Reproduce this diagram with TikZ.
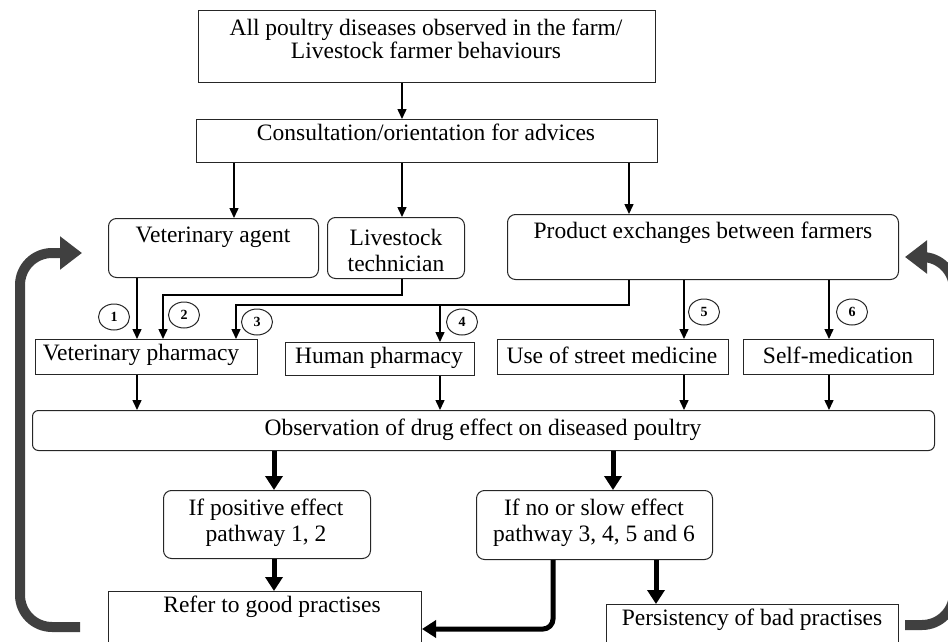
\documentclass[tikz,border=0pt]{standalone}
\usepackage{fontspec}
\setmainfont{Liberation Serif}
\usetikzlibrary{arrows.meta,shapes.geometric}
\definecolor{loopgray}{RGB}{64,64,64}
\tikzset{
  box/.style={draw=black!85, line width=1pt, inner sep=0pt, anchor=north west},
  rbox/.style={box, rounded corners=8pt},
  txt/.style={inner sep=0pt, align=center, font=\fontsize{23.5}{26}\selectfont},
  num/.style={draw=black!85, ellipse, line width=1pt, minimum width=31pt, minimum height=26pt, inner sep=0pt, font=\bfseries\fontsize{14}{14}\selectfont},
  thinarrow/.style={line width=1.5pt, -{Triangle[length=10pt,width=9pt]}},
  thickarrow/.style={line width=5pt, rounded corners=10pt, -{Triangle[length=14pt,width=17pt]}},
  grayarrow/.style={draw=loopgray, line width=10pt, rounded corners=32pt, -{Triangle[length=22pt,width=32pt]}}
}
\begin{document}
\begin{tikzpicture}[x=1pt,y=-1pt]
\useasboundingbox (0,0) rectangle (948,642);
\clip (0,0) rectangle (948,642);
% column coordinates
\coordinate (x137) at (137,0);
\coordinate (x163) at (163,0);
\coordinate (x234) at (234,0);
\coordinate (x236) at (236,0);
\coordinate (x274) at (274,0);
\coordinate (x402) at (402,0);
\coordinate (x440) at (440,0);
\coordinate (x553) at (553,0);
\coordinate (x613) at (613,0);
\coordinate (x629) at (629,0);
\coordinate (x656) at (656,0);
\coordinate (x684) at (684,0);
\coordinate (x829) at (829,0);
\coordinate (y629) at (0,629);
\coordinate (j4) at (440,304);

% boxes
\node[box, minimum width=457pt, minimum height=72pt] (top) at (198,10) {};
\node[box, minimum width=461pt, minimum height=43pt] (cons) at (196,119) {};
\node[rbox, minimum width=210pt, minimum height=59pt] (va) at (108,218) {};
\node[rbox, minimum width=137pt, minimum height=61pt] (lt) at (327,217) {};
\node[rbox, minimum width=391pt, minimum height=65pt] (pe) at (507,214) {};
\node[box, minimum width=222pt, minimum height=35pt] (vp) at (35,339) {};
\node[box, minimum width=189pt, minimum height=33pt] (hp) at (285,342) {};
\node[box, minimum width=231pt, minimum height=35pt] (sm) at (497,339) {};
\node[box, minimum width=190pt, minimum height=35pt] (sf) at (743,339) {};
\node[box, rounded corners=6pt, minimum width=902pt, minimum height=40pt] (obs) at (32,410) {};
\node[rbox, minimum width=207pt, minimum height=68pt] (ip) at (163,490) {};
\node[rbox, minimum width=236pt, minimum height=69pt] (in) at (476,490) {};
\node[box, minimum width=313pt, minimum height=70pt] (ref) at (108,591) {};
\node[box, minimum width=292pt, minimum height=60pt] (pers) at (606,604) {};

% texts
\node[txt, font=\fontsize{23.5}{23}\selectfont] (toptxt) at (426,39) {All poultry diseases observed in the farm/\\Livestock farmer behaviours};
\node[txt] (constxt) at (426,132) {Consultation/orientation for advices};
\node[txt] (vatxt) at (213,237) {Veterinary agent};
\node[txt] (lttxt) at (396,250) {Livestock\\technician};
\node[txt] (petxt) at (703,233) {Product exchanges between farmers};
\node[txt] (vptxt) at (141,355) {Veterinary pharmacy};
\node[txt] (hptxt) at (379,358) {Human pharmacy};
\node[txt] (smtxt) at (612,355) {Use of street medicine};
\node[txt] (sftxt) at (838,355) {Self-medication};
\node[txt] (obstxt) at (483,430) {Observation of drug effect on diseased poultry};
\node[txt] (iptxt) at (266,523) {If positive effect\\pathway 1, 2};
\node[txt] (intxt) at (594,523) {If no or slow effect\\pathway 3, 4, 5 and 6};
\node[txt] (reftxt) at (272,607) {Refer to good practises};
\node[txt] (perstxt) at (752,620) {Persistency of bad practises};

% numbered circles
\node[num] (n1) at (114,317) {1};
\node[num] (n2) at (184,315) {2};
\node[num] (n3) at (257,322) {3};
\node[num] (n4) at (462,322) {4};
\node[num] (n5) at (704,312) {5};
\node[num] (n6) at (852,312) {6};

% thin connectors
\draw[thinarrow] (top.south -| x402) -- (cons.north -| x402);
\draw[thinarrow] (cons.south -| x234) -- (va.north -| x234);
\draw[thinarrow] (cons.south -| x402) -- (lt.north -| x402);
\draw[thinarrow] (cons.south -| x629) -- (pe.north -| x629);
\draw[thinarrow] (va.south -| x137) -- (vp.north -| x137);
\draw[thinarrow] (lt.south -| x402) -- ++(0,16) -| (vp.north -| x163);
\draw[thinarrow] (pe.south -| x629) -- ++(0,25) -| (vp.north -| x236);
\draw[thinarrow] (j4) -- (hp.north -| j4);
\draw[thinarrow] (pe.south -| x684) -- (sm.north -| x684);
\draw[thinarrow] (pe.south -| x829) -- (sf.north -| x829);
\draw[thinarrow] (vp.south -| x137) -- (obs.north -| x137);
\draw[thinarrow] (hp.south -| x440) -- (obs.north -| x440);
\draw[thinarrow] (sm.south -| x684) -- (obs.north -| x684);
\draw[thinarrow] (sf.south -| x829) -- (obs.north -| x829);

% thick connectors
\draw[thickarrow] (obs.south -| x274) -- (ip.north -| x274);
\draw[thickarrow] (obs.south -| x613) -- (in.north -| x613);
\draw[thickarrow] (ip.south -| x274) -- (ref.north -| x274);
\draw[thickarrow] (in.south -| x656) -- (pers.north -| x656);
\draw[thickarrow] (in.south -| x553) |- (ref.east |- y629);

% gray feedback loops
\coordinate (gl1) at (80,627);
\coordinate (gl2) at (82,253);
\coordinate (gr1) at (905,625);
\coordinate (gr2) at (905,257);
\draw[grayarrow] (gl1) -- (20,627) -- (20,253) -- (gl2);
\draw[grayarrow] (gr1) -- (954,625) -- (954,257) -- (gr2);
\end{tikzpicture}
\end{document}
